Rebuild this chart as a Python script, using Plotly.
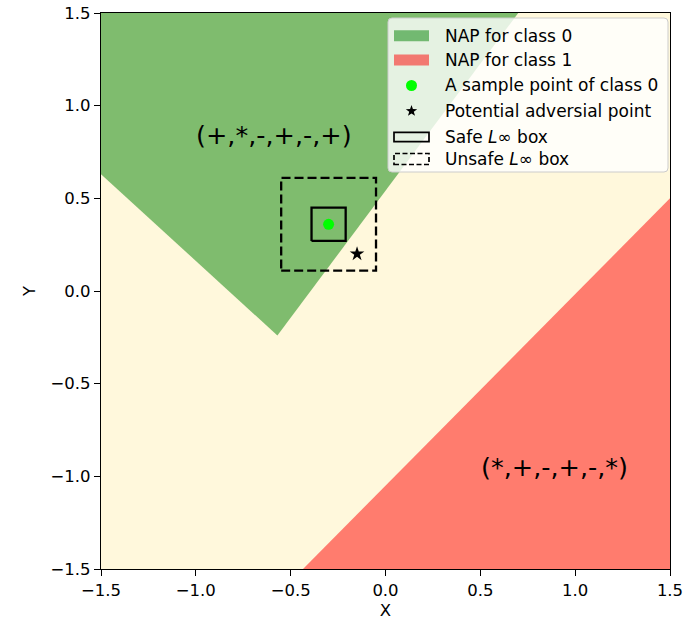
import math
import plotly.graph_objects as go

# Region polygons (data coordinates)
nap0_x = [-1.5, -1.5, -0.57, 0.70]
nap0_y = [1.5, 0.63, -0.24, 1.5]
nap1_x = [-0.435, 1.5, 1.5]
nap1_y = [-1.5, 0.5, -1.5]

# Sample point, candidate adversarial point and L-inf box half-widths
sample_x, sample_y = -0.30, 0.36
adv_x, adv_y = -0.15, 0.20
safe_eps = 0.09
unsafe_eps = 0.25

# Region labels
region_labels = ["(+,*,-,+,-,+)", "(*,+,-,+,-,*)"]
region_label_x = [-0.59, 0.89]
region_label_y = [0.84, -0.95]

tick_vals = [-1.5, -1.0, -0.5, 0.0, 0.5, 1.0, 1.5]
tick_text = ["−1.5", "−1.0", "−0.5", "0.0", "0.5", "1.0", "1.5"]

legend_labels = [
    "NAP for class 0",
    "NAP for class 1",
    "A sample point of class 0",
    "Potential adversial point",
    "Safe <i>L</i>∞ box",
    "Unsafe <i>L</i>∞ box",
]

W, H = 691, 620
L, R, T, B = 101, 21, 13, 51
PW, PH = W - L - R, H - T - B

GREEN = "rgba(0,128,0,0.5)"
RED = "rgba(255,0,0,0.5)"
FONT = "DejaVu Sans"


def px(xp):
    return (xp - L) / PW


def py(yp):
    return (H - B - yp) / PH


def box(cx, cy, e):
    return ([cx - e, cx + e, cx + e, cx - e, cx - e],
            [cy - e, cy - e, cy + e, cy + e, cy - e])


fig = go.Figure()

fig.add_trace(go.Scatter(x=nap0_x, y=nap0_y, fill="toself", fillcolor=GREEN,
                         mode="lines", line=dict(width=0), hoverinfo="skip",
                         showlegend=False))
fig.add_trace(go.Scatter(x=nap1_x, y=nap1_y, fill="toself", fillcolor=RED,
                         mode="lines", line=dict(width=0), hoverinfo="skip",
                         showlegend=False))

bx, by = box(sample_x, sample_y, safe_eps)
fig.add_trace(go.Scatter(x=bx, y=by, mode="lines",
                         line=dict(color="black", width=2.3), showlegend=False))
bx, by = box(sample_x, sample_y, unsafe_eps)
fig.add_trace(go.Scatter(x=bx, y=by, mode="lines",
                         line=dict(color="black", width=2.3, dash="9px,4px"),
                         showlegend=False))

fig.add_trace(go.Scatter(x=[sample_x], y=[sample_y], mode="markers",
                         marker=dict(color="#00FF00", size=11, line=dict(width=0)),
                         showlegend=False))
fig.add_trace(go.Scatter(x=[adv_x], y=[adv_y], mode="markers",
                         marker=dict(color="black", size=11, symbol="star",
                                     line=dict(width=0)),
                         showlegend=False))

for t, x, y in zip(region_labels, region_label_x, region_label_y):
    fig.add_annotation(x=x, y=y, text=t, showarrow=False,
                       font=dict(family=FONT, size=25.5, color="black"))

# ---- legend panel (drawn in pixel space, converted to paper coordinates) ----
lx0, lx1, ly0, ly1, r = 388, 668, 18, 172, 4
path = (f"M {px(lx0 + r)},{py(ly0)} L {px(lx1 - r)},{py(ly0)} "
        f"Q {px(lx1)},{py(ly0)} {px(lx1)},{py(ly0 + r)} "
        f"L {px(lx1)},{py(ly1 - r)} Q {px(lx1)},{py(ly1)} {px(lx1 - r)},{py(ly1)} "
        f"L {px(lx0 + r)},{py(ly1)} Q {px(lx0)},{py(ly1)} {px(lx0)},{py(ly1 - r)} "
        f"L {px(lx0)},{py(ly0 + r)} Q {px(lx0)},{py(ly0)} {px(lx0 + r)},{py(ly0)} Z")
shapes = [dict(type="path", path=path, xref="paper", yref="paper",
               fillcolor="rgba(255,255,255,0.8)",
               line=dict(color="rgba(204,204,204,1)", width=1), layer="above")]

rows = [35.8, 60, 85.5, 110.5, 137, 159]
icon_x0, icon_x1, text_x = 394, 429, 443
mid = (icon_x0 + icon_x1) / 2

for yc, col in zip(rows[:2], [GREEN, RED]):
    shapes.append(dict(type="rect", xref="paper", yref="paper",
                       x0=px(icon_x0), x1=px(icon_x1), y0=py(yc + 5.5), y1=py(yc - 5.5),
                       fillcolor=col, line=dict(width=0), layer="above"))

# legend dot
shapes.append(dict(type="circle", xref="paper", yref="paper",
                   x0=px(mid - 5.5), x1=px(mid + 5.5),
                   y0=py(rows[2] + 5.5), y1=py(rows[2] - 5.5),
                   fillcolor="#00FF00", line=dict(width=0), layer="above"))

# legend star
pts = []
for k in range(10):
    rad = 6.0 if k % 2 == 0 else 2.4
    ang = math.pi / 2 + k * math.pi / 5
    pts.append((mid + rad * math.cos(ang), rows[3] + 0.5 - rad * math.sin(ang)))
star = "M " + " L ".join(f"{px(a)},{py(b)}" for a, b in pts) + " Z"
shapes.append(dict(type="path", path=star, xref="paper", yref="paper",
                   fillcolor="black", line=dict(width=0), layer="above"))

for yc, dash, hh in zip(rows[4:], ["solid", "5px,2.5px"], [4.7, 5.5]):
    shapes.append(dict(type="rect", xref="paper", yref="paper",
                       x0=px(icon_x0), x1=px(icon_x1), y0=py(yc + hh), y1=py(yc - hh),
                       fillcolor="rgba(0,0,0,0)",
                       line=dict(color="black", width=1.7, dash=dash), layer="above"))

for yc, t in zip(rows, legend_labels):
    fig.add_annotation(xref="paper", yref="paper", x=px(text_x), y=py(yc), text=t,
                       showarrow=False, xanchor="left", yanchor="middle",
                       font=dict(family=FONT, size=17, color="black"))

axis_common = dict(range=[-1.5, 1.5], tickvals=tick_vals, ticktext=tick_text,
                   showgrid=False, zeroline=False, showline=True, linecolor="black",
                   linewidth=1.3, mirror=True, ticks="outside", ticklen=6,
                   tickwidth=1.3, tickcolor="black", automargin=False,
                   tickfont=dict(family=FONT, size=16.5, color="black"))

fig.update_layout(
    width=W, height=H,
    margin=dict(l=L, r=R, t=T, b=B),
    paper_bgcolor="white",
    plot_bgcolor="#FFF8DC",
    showlegend=False,
    font=dict(family=FONT, color="black"),
    xaxis=dict(**axis_common,
               title=dict(text="X", font=dict(family=FONT, size=16.5), standoff=6)),
    yaxis=dict(**axis_common,
               title=dict(text="Y", font=dict(family=FONT, size=16.5), standoff=10)),
    shapes=shapes,
)

fig.write_html("out.html")
